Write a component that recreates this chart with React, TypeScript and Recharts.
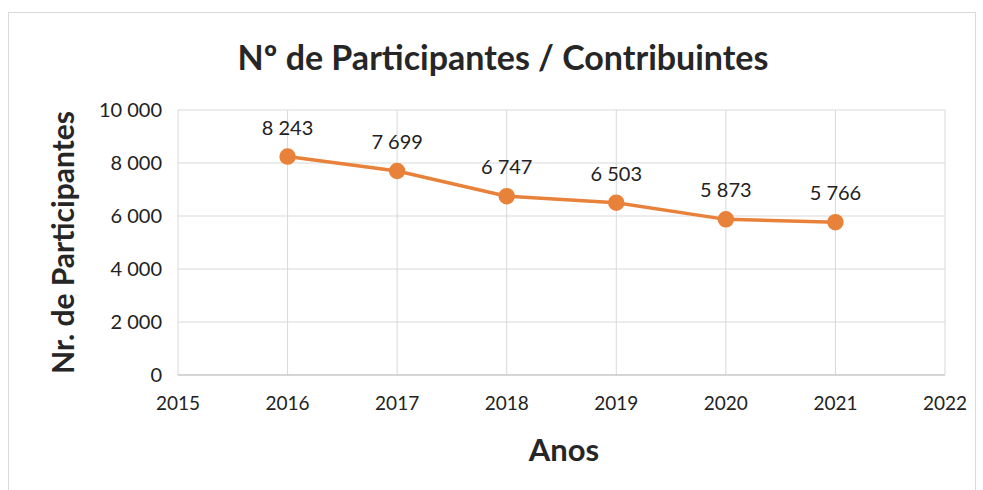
import React from 'react';
import { LineChart, Line, XAxis, YAxis, CartesianGrid, LabelList } from 'recharts';

const years = [2016, 2017, 2018, 2019, 2020, 2021];
const participants = [8243, 7699, 6747, 6503, 5873, 5766];
const xTicks = [2015, 2016, 2017, 2018, 2019, 2020, 2021, 2022];
const yTicks = [0, 2000, 4000, 6000, 8000, 10000];

const data = years.map((year, i) => ({ year, value: participants[i] }));

const fmt = (v: number) => String(v).replace(/\B(?=(\d{3})+(?!\d))/g, ' ');

const FONT = 'Lato, "Open Sans", sans-serif';

const App: React.FC = () => {
    return (
        <div style={{ position: 'absolute', left: 0, top: 0, width: 983, height: 490, background: '#fff', fontFamily: FONT }}>
            <div style={{ position: 'absolute', left: 8, top: 12, width: 968, height: 490, border: '1px solid #d9d9d9', boxSizing: 'border-box' }} />
            <div style={{ position: 'absolute', left: 0, top: 36, width: 1006, textAlign: 'center', fontSize: 34, fontWeight: 700, color: '#262626' }}>
                Nº de Participantes / Contribuintes
            </div>
            <div style={{ position: 'absolute', left: 0, top: 430, width: 1128, textAlign: 'center', fontSize: 31, fontWeight: 700, color: '#262626' }}>
                Anos
            </div>
            <div style={{ position: 'absolute', left: 0, top: 0 }}>
                <LineChart width={983} height={490} data={data} margin={{ top: 110, right: 38, bottom: 85, left: 0 }}>
                    <CartesianGrid stroke="#d9d9d9" vertical={true} horizontal={true} />
                    <XAxis
                        dataKey="year"
                        type="number"
                        domain={[2015, 2022]}
                        ticks={xTicks}
                        interval={0}
                        tickSize={0}
                        tickMargin={22}
                        tickLine={false}
                        axisLine={{ stroke: '#bfbfbf' }}
                        tick={{ fill: '#222', fontSize: 19, fontFamily: FONT }}
                    />
                    <YAxis
                        width={178}
                        domain={[0, 10000]}
                        ticks={yTicks}
                        interval={0}
                        tickSize={0}
                        tickMargin={16}
                        tickLine={false}
                        axisLine={false}
                        tickFormatter={fmt}
                        tick={{ fill: '#222', fontSize: 20, fontFamily: FONT }}
                        label={{ value: 'Nr. de Participantes', angle: -90, position: 'insideLeft', dx: 58, dy: 0, style: { textAnchor: 'middle', fontSize: 30, fontWeight: 700, fill: '#262626', fontFamily: FONT } }}
                    />
                    <Line
                        dataKey="value"
                        stroke="#e8823a"
                        strokeWidth={3.5}
                        dot={{ r: 6.5, fill: '#e8823a', stroke: '#e8823a' }}
                        isAnimationActive={false}
                    >
                        <LabelList dataKey="value" position="top" offset={22} formatter={(v: any) => fmt(Number(v))} style={{ fill: '#222', fontSize: 20, fontFamily: FONT }} />
                    </Line>
                </LineChart>
            </div>
        </div>
    );
};

export default App;
